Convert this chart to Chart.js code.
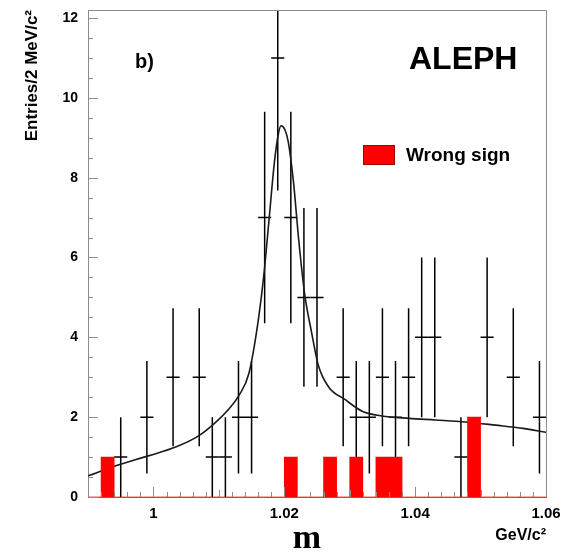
<!DOCTYPE html>
<html>
<head>
<meta charset="utf-8">
<title>ALEPH b) - mass spectrum</title>
<script src="https://cdn.jsdelivr.net/npm/chart.js@4.4.1/dist/chart.umd.min.js"></script>
<style>
  body { margin: 0; background: #fff; }
  #chart { display: block; }
</style>
</head>
<body>
<canvas id="chart" width="568" height="555"></canvas>
<script>
// bins of 2 MeV/c^2, centres in GeV/c^2
const binCenters = [0.991, 0.993, 0.995, 0.997, 0.999, 1.001, 1.003, 1.005, 1.007, 1.009,
  1.011, 1.013, 1.015, 1.017, 1.019, 1.021, 1.023, 1.025, 1.027, 1.029,
  1.031, 1.033, 1.035, 1.037, 1.039, 1.041, 1.043, 1.045, 1.047, 1.049,
  1.051, 1.053, 1.055, 1.057, 1.059];
const binHalfWidth = 0.001;

// right sign entries and their errors
const counts = [0, 0, 1, 0, 2, 0, 3, 0, 3, 1,
  1, 2, 2, 7, 11, 7, 5, 5, 0, 3,
  2, 2, 3, 2, 3, 4, 4, 0, 1, 0,
  4, 0, 3, 0, 2];
const countErrors = [0, 0, 1, 0, 1.41, 0, 1.73, 0, 1.73, 1,
  1, 1.41, 1.41, 2.65, 3.32, 2.65, 2.24, 2.24, 0, 1.73,
  1.41, 1.41, 1.73, 1.41, 1.73, 2, 2, 0, 1, 0,
  2, 0, 1.73, 0, 1.41];

// wrong sign histogram
const wrongSign = [0, 1, 0, 0, 0, 0, 0, 0, 0, 0,
  0, 0, 0, 0, 0, 1, 0, 0, 1, 0,
  1, 0, 1, 1, 0, 0, 0, 0, 0, 2,
  0, 0, 0, 0, 0];

// fitted curve
const fitX = [0.990, 0.9946, 0.9992, 1.0034, 1.0069, 1.0095, 1.0115, 1.0131, 1.0146, 1.0160,
  1.0169, 1.0177, 1.0185, 1.0191, 1.0195, 1.0201, 1.0206, 1.0214, 1.0222, 1.0231,
  1.0242, 1.0252, 1.0268, 1.0292, 1.0319, 1.0349, 1.0391, 1.0431, 1.0477, 1.0523,
  1.0565, 1.0600];
const fitY = [0.53, 0.80, 1.03, 1.25, 1.53, 1.87, 2.20, 2.55, 3.10, 4.40,
  5.60, 7.00, 8.40, 9.10, 9.30, 9.20, 8.90, 7.90, 6.45, 5.10,
  4.10, 3.30, 2.75, 2.45, 2.15, 2.03, 1.97, 1.93, 1.88, 1.80,
  1.72, 1.62];

const xTicks = [1, 1.02, 1.04, 1.06];
const yTicks = [0, 2, 4, 6, 8, 10, 12];

const sans = "'Liberation Sans', Arial, sans-serif";
const axisGray = '#8c8c8c';

// error bars, inner ticks, frame and the texts
const histPlugin = {
  id: 'histDecor',
  beforeDatasetsDraw(chart) {
    const {ctx, chartArea: a, scales: {x, y}} = chart;
    const pts = chart.getDatasetMeta(2).data;
    const raw = chart.data.datasets[2].data;
    ctx.save();
    ctx.beginPath();
    ctx.rect(a.left, a.top, a.right - a.left, a.bottom - a.top);
    ctx.clip();
    ctx.strokeStyle = '#000';
    ctx.lineWidth = 1.5;
    pts.forEach((p, i) => {
      const d = raw[i];
      ctx.beginPath();
      ctx.moveTo(p.x, y.getPixelForValue(d.y - d.err));
      ctx.lineTo(p.x, y.getPixelForValue(d.y + d.err));
      ctx.moveTo(x.getPixelForValue(d.x - binHalfWidth), p.y);
      ctx.lineTo(x.getPixelForValue(d.x + binHalfWidth), p.y);
      ctx.stroke();
    });
    ctx.restore();
  },
  afterDraw(chart) {
    const {ctx, chartArea: a, scales: {x, y}} = chart;
    ctx.save();
    // top and right side of the frame
    ctx.strokeStyle = axisGray;
    ctx.lineWidth = 1;
    ctx.beginPath();
    ctx.moveTo(a.left, a.top + 0.5);
    ctx.lineTo(a.right + 0.5, a.top + 0.5);
    ctx.lineTo(a.right + 0.5, a.bottom);
    ctx.stroke();

    // y ticks, pointing inside
    ctx.beginPath();
    for (let k = 0; k <= 24; k++) {
      const py = Math.round(y.getPixelForValue(k * 0.5)) + 0.5;
      const len = k % 4 === 0 ? 10 : 5;
      ctx.moveTo(a.left, py);
      ctx.lineTo(a.left + len, py);
    }
    // x ticks
    for (let k = 0; k <= 35; k++) {
      const v = 0.99 + k * 0.002;
      const px = Math.round(x.getPixelForValue(v)) + 0.5;
      let len = 5;
      if ((k + 5) % 10 === 0) len = 10;
      else if (k % 5 === 0) len = 7;
      ctx.moveTo(px, a.bottom);
      ctx.lineTo(px, a.bottom - len);
    }
    ctx.stroke();

    // texts
    ctx.fillStyle = '#000';
    ctx.textBaseline = 'middle';
    ctx.textAlign = 'left';
    ctx.font = 'bold 20px ' + sans;
    ctx.fillText('b)', 135, 62);
    ctx.font = 'bold 32px ' + sans;
    ctx.fillText('ALEPH', 409, 60);

    // legend
    ctx.fillStyle = '#ff0000';
    ctx.fillRect(363, 145, 32, 20);
    ctx.strokeStyle = '#a00000';
    ctx.strokeRect(363.5, 145.5, 31, 19);
    ctx.fillStyle = '#000';
    ctx.font = 'bold 19px ' + sans;
    ctx.fillText('Wrong sign', 406, 156);

    // big m under the axis
    ctx.textAlign = 'center';
    ctx.textBaseline = 'alphabetic';
    ctx.font = "bold 34px 'Liberation Serif', 'Times New Roman', serif";
    ctx.fillText('m', 307, 548);
    ctx.restore();
  }
};

const ctx = document.getElementById('chart').getContext('2d');
const chart = new Chart(ctx, {
  type: 'scatter',
  data: {
    datasets: [
      {
        type: 'bar',
        label: 'Wrong sign',
        data: binCenters.map((c, i) => ({x: c, y: wrongSign[i]})),
        backgroundColor: '#ff0000',
        borderWidth: 0,
        barPercentage: 1,
        categoryPercentage: 1,
        order: 0
      },
      {
        type: 'line',
        label: 'Fit',
        data: fitX.map((v, i) => ({x: v, y: fitY[i]})),
        borderColor: '#1a1a1a',
        borderWidth: 1.6,
        pointRadius: 0,
        fill: false,
        cubicInterpolationMode: 'monotone',
        order: 1
      },
      {
        type: 'scatter',
        label: 'Data',
        data: binCenters.map((c, i) => ({x: c, y: counts[i], err: countErrors[i]}))
          .filter(d => d.y > 0),
        pointRadius: 0,
        order: 2
      }
    ]
  },
  options: {
    responsive: false,
    animation: false,
    layout: { padding: { top: 10, right: 22, left: 0, bottom: 0 } },
    plugins: {
      legend: { display: false },
      tooltip: { enabled: false }
    },
    scales: {
      x: {
        type: 'linear',
        position: 'bottom',
        min: 0.99,
        max: 1.06,
        offset: false,
        grid: { display: false, drawTicks: false },
        border: { display: true, color: '#cc4444', width: 1 },
        afterBuildTicks: (scale) => { scale.ticks = xTicks.map(v => ({value: v})); },
        afterFit: (scale) => { scale.height = 58; scale.paddingLeft = 0; scale.paddingRight = 0; },
        ticks: {
          autoSkip: false,
          maxRotation: 0,
          padding: 8,
          color: '#000',
          font: { family: sans, size: 15, weight: 'bold' },
          callback: (v) => String(+v.toFixed(2))
        },
        title: {
          display: true,
          text: 'GeV/c²',
          align: 'end',
          color: '#000',
          font: { family: sans, size: 16, weight: 'bold' },
          padding: { top: 0, bottom: 10 }
        }
      },
      y: {
        type: 'linear',
        min: 0,
        max: 12.2,
        grid: { display: false, drawTicks: false },
        border: { display: true, color: axisGray, width: 1 },
        afterBuildTicks: (scale) => { scale.ticks = yTicks.map(v => ({value: v})); },
        afterFit: (scale) => { scale.width = 88; scale.paddingTop = 0; scale.paddingBottom = 0; },
        ticks: {
          padding: 10,
          color: '#000',
          font: { family: sans, size: 14, weight: 'bold' }
        },
        title: {
          display: true,
          text: 'Entries/2 MeV/c²',
          align: 'end',
          color: '#000',
          font: { family: sans, size: 17, weight: 'bold' },
          padding: { top: 22, bottom: 0 }
        }
      }
    }
  },
  plugins: [histPlugin]
});
</script>
</body>
</html>
